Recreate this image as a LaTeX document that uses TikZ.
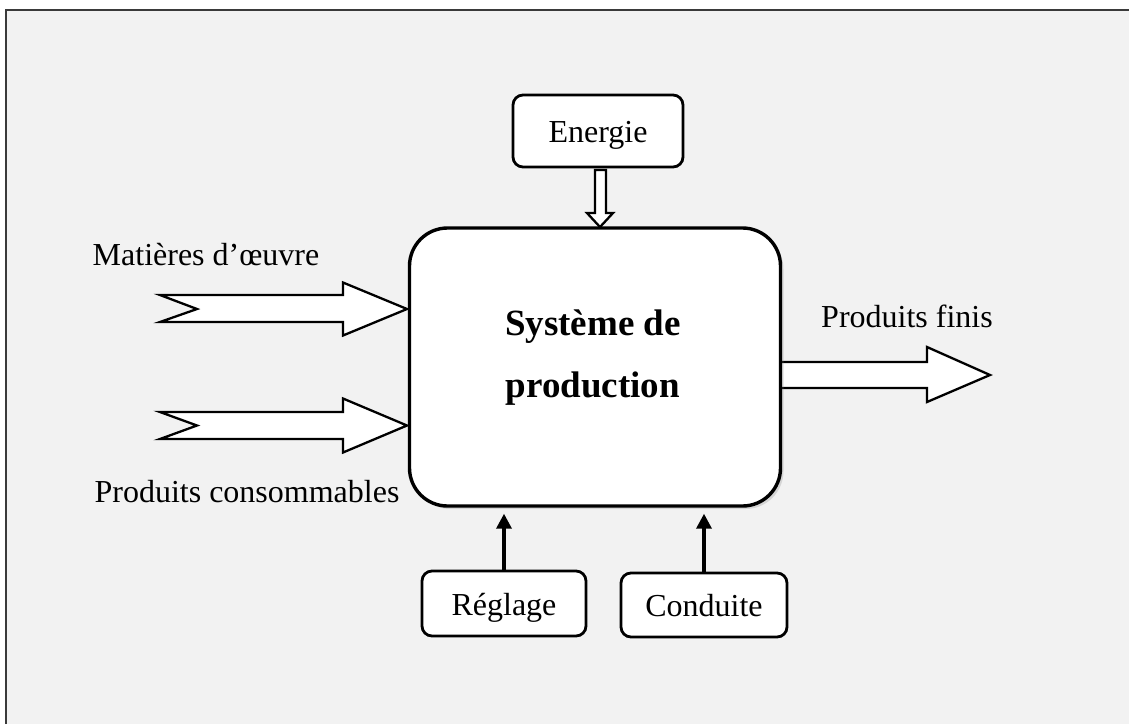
\documentclass[tikz,border=0pt]{standalone}
\usepackage{fontspec}
\setmainfont{Liberation Serif}
\usetikzlibrary{arrows.meta,shadows}
\definecolor{bgfill}{HTML}{F2F2F2}
\definecolor{framec}{HTML}{3A3A3A}
\begin{document}
\begin{tikzpicture}[x=1pt,y=-1pt,
  lbl/.style={font=\fontsize{32}{38}\selectfont, inner sep=0pt},
  smallbox/.style={draw, line width=2.8pt, rounded corners=10pt, fill=white,
    font=\fontsize{32}{38}\selectfont, inner sep=0pt, text height=23pt, text depth=0pt},
  sysbox/.style={draw, line width=3.4pt, rounded corners=38pt, fill=white,
    drop shadow={shadow xshift=3pt, shadow yshift=-3pt, opacity=0.25}},
  systext/.style={font=\fontsize{37}{62}\selectfont\bfseries, align=center, inner sep=0pt},
  hollow/.style={draw, line width=2.3pt, fill=white, line join=miter},
  ctrl/.style={line width=3.4pt, -{Triangle[length=15pt,width=15pt]}, shorten >=6pt}
]
\useasboundingbox (0,0) rectangle (1129,724);
% page and frame
\fill[white] (0,0) rectangle (1129,724);
\fill[bgfill] (6,10) rectangle (1129,724);
\draw[framec, line width=2pt] (6,724) -- (6,10) -- (1129,10);

% output arrow (its root is hidden under the main box)
\draw[hollow] (770,362) -- (927,362) -- (927,347) -- (990,375) -- (927,402) -- (927,388) -- (770,388) -- cycle;

% main block
\node[sysbox, minimum width=371pt, minimum height=278pt] (sys) at (595,367) {};
\node[systext] (systitle) at (593,358) {Système de\\production};

% input arrows
\draw[hollow] (160,295) -- (343,295) -- (343,282.5) -- (407,309) -- (343,335.5) -- (343,322) -- (160,322) -- (197,309) -- cycle;
\draw[hollow] (160,412) -- (343,412) -- (343,398.5) -- (407,425.5) -- (343,452.5) -- (343,439) -- (160,439) -- (197,425.5) -- cycle;

% energy supply
\node[smallbox, minimum width=170pt, minimum height=72pt] (en) at (598,131) {Energie};
\draw[hollow] (595,170) -- (606,170) -- (606,213) -- (613,213) -- (600,227) -- (587,213) -- (595,213) -- cycle;

% control inputs
\node[smallbox, minimum width=164pt, minimum height=65pt] (reg) at (504,603.5) {Réglage};
\node[smallbox, minimum width=166pt, minimum height=64pt] (cond) at (704,605) {Conduite};
\draw[ctrl] (reg.north) -- (reg.north |- sys.south);
\draw[ctrl] (cond.north) -- (cond.north |- sys.south);

% labels
\node[lbl] (lmat) at (206,255) {Matières d’œuvre};
\node[lbl] (lcons) at (247,492) {Produits consommables};
\node[lbl] (lfin) at (907,316) {Produits finis};
\end{tikzpicture}
\end{document}
